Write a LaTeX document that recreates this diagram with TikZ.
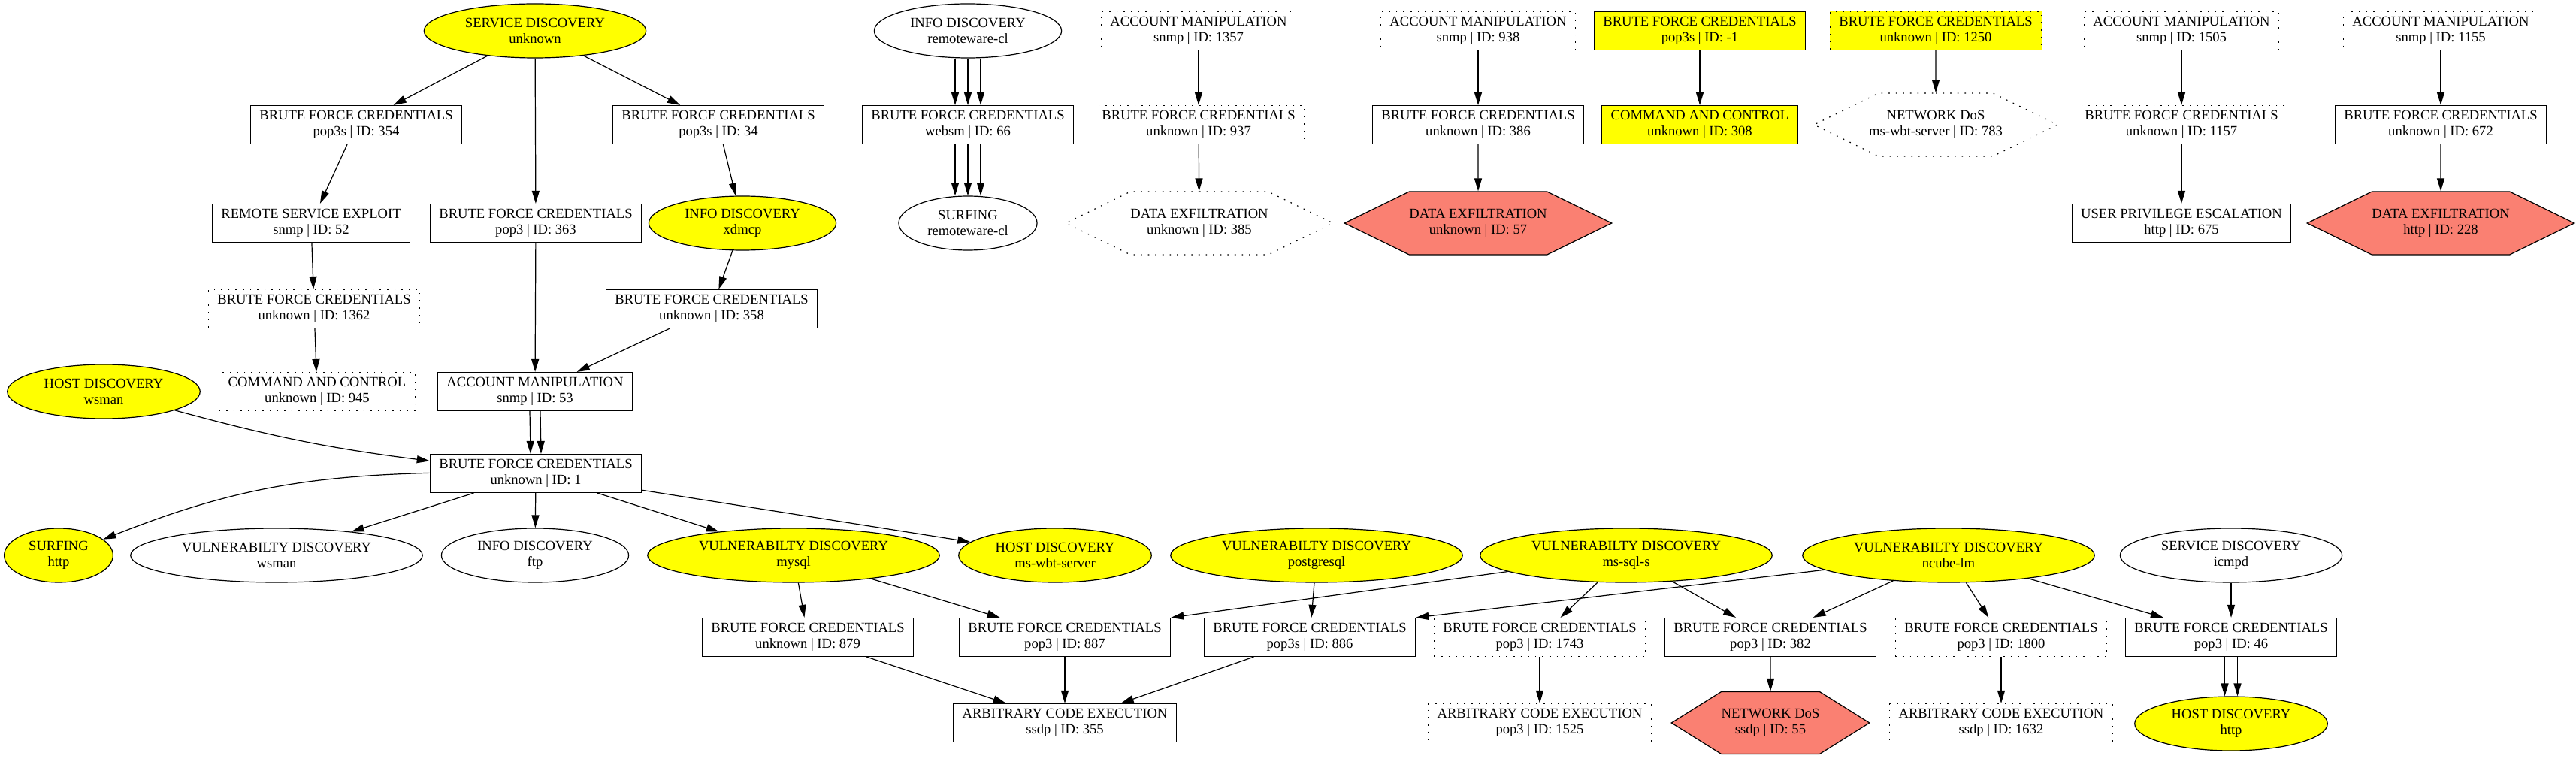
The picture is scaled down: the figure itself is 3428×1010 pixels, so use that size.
\documentclass[tikz,border=0pt]{standalone}
\usepackage{fontspec}
\setmainfont{Liberation Serif}
\usetikzlibrary{shapes.geometric,shapes.symbols,arrows.meta}
\definecolor{salmon}{RGB}{250,128,114}
\definecolor{gvyellow}{RGB}{255,255,0}
\tikzset{
  lbl/.style={font=\fontsize{9.3}{10.35}\selectfont,align=center,line width=0.6pt},
  boxnode/.style={lbl,draw,rectangle,inner xsep=6pt,inner ysep=2pt,minimum height=25.5pt},
  ovalnode/.style={lbl,draw,ellipse,inner xsep=5.7pt,inner ysep=0pt,minimum height=36pt},
  hexnode/.style={lbl,draw,signal,signal to=east and west,signal pointer angle=52,minimum height=42pt,inner sep=0pt},
  dots/.style={dash pattern=on 0.8pt off 4pt},
  link/.style={line width=0.6pt,-{Triangle[length=8.5pt,width=5pt]}}
}
\begin{document}
\begin{tikzpicture}[x=0.5pt,y=-0.5pt]
\fill[white] (0,0) rectangle (3428,1010);
\useasboundingbox (0,0) rectangle (3428,1010);
\node[ovalnode,fill=gvyellow] (svcunk) at (712,41) {SERVICE DISCOVERY\\unknown};
\node[ovalnode] (inforw) at (1288,41) {INFO DISCOVERY\\remoteware-cl};
\node[boxnode,dots] (am1357) at (1595,41) {ACCOUNT MANIPULATION\\snmp | ID: 1357};
\node[boxnode,dots] (am938) at (1967,41) {ACCOUNT MANIPULATION\\snmp | ID: 938};
\node[boxnode,fill=gvyellow] (bfm1) at (2262,41) {BRUTE FORCE CREDENTIALS\\pop3s | ID: -1};
\node[boxnode,dots,fill=gvyellow] (bf1250) at (2576,41) {BRUTE FORCE CREDENTIALS\\unknown | ID: 1250};
\node[boxnode,dots] (am1505) at (2903,41) {ACCOUNT MANIPULATION\\snmp | ID: 1505};
\node[boxnode,dots] (am1155) at (3248,41) {ACCOUNT MANIPULATION\\snmp | ID: 1155};
\node[boxnode] (bf354) at (474,166) {BRUTE FORCE CREDENTIALS\\pop3s | ID: 354};
\node[boxnode] (bf34) at (956,166) {BRUTE FORCE CREDENTIALS\\pop3s | ID: 34};
\node[boxnode] (bf66) at (1288,166) {BRUTE FORCE CREDENTIALS\\websm | ID: 66};
\node[boxnode,dots] (bf937) at (1595,166) {BRUTE FORCE CREDENTIALS\\unknown | ID: 937};
\node[boxnode] (bf386) at (1967,166) {BRUTE FORCE CREDENTIALS\\unknown | ID: 386};
\node[boxnode,fill=gvyellow] (cc308) at (2262,166) {COMMAND AND CONTROL\\unknown | ID: 308};
\node[hexnode,dots,inner xsep=-6.5pt,minimum width=161pt] (dos783) at (2576,166) {NETWORK DoS\\ms-wbt-server | ID: 783};
\node[boxnode,dots] (bf1157) at (2903,166) {BRUTE FORCE CREDENTIALS\\unknown | ID: 1157};
\node[boxnode] (bf672) at (3248,166) {BRUTE FORCE CREDENTIALS\\unknown | ID: 672};
\node[boxnode] (rse52) at (414,297) {REMOTE SERVICE EXPLOIT\\snmp | ID: 52};
\node[boxnode] (bf363) at (713,297) {BRUTE FORCE CREDENTIALS\\pop3 | ID: 363};
\node[ovalnode,fill=gvyellow] (infoxd) at (988,297) {INFO DISCOVERY\\xdmcp};
\node[ovalnode] (surfrw) at (1288,297) {SURFING\\remoteware-cl};
\node[hexnode,dots,minimum width=174pt] (dx385) at (1596,297) {DATA EXFILTRATION\\unknown | ID: 385};
\node[hexnode,fill=salmon,minimum width=174pt] (dx57) at (1967,297) {DATA EXFILTRATION\\unknown | ID: 57};
\node[boxnode] (upe675) at (2903,297) {USER PRIVILEGE ESCALATION\\http | ID: 675};
\node[hexnode,fill=salmon,minimum width=174pt] (dx228) at (3248,297) {DATA EXFILTRATION\\http | ID: 228};
\node[boxnode,dots] (bf1362) at (418,411) {BRUTE FORCE CREDENTIALS\\unknown | ID: 1362};
\node[boxnode] (bf358) at (947,411) {BRUTE FORCE CREDENTIALS\\unknown | ID: 358};
\node[ovalnode,fill=gvyellow] (hdwsman) at (138,521) {HOST DISCOVERY\\wsman};
\node[boxnode,dots] (cc945) at (422,521) {COMMAND AND CONTROL\\unknown | ID: 945};
\node[boxnode] (am53) at (712,521) {ACCOUNT MANIPULATION\\snmp | ID: 53};
\node[boxnode] (bf1) at (713,630) {BRUTE FORCE CREDENTIALS\\unknown | ID: 1};
\node[ovalnode,fill=gvyellow] (surfhttp) at (78,739) {SURFING\\http};
\node[ovalnode] (vdwsman) at (368,739) {VULNERABILTY DISCOVERY\\wsman};
\node[ovalnode] (infoftp) at (712,739) {INFO DISCOVERY\\ftp};
\node[ovalnode,fill=gvyellow] (vdmysql) at (1056,739) {VULNERABILTY DISCOVERY\\mysql};
\node[ovalnode,fill=gvyellow] (hdmswbt) at (1404,739) {HOST DISCOVERY\\ms-wbt-server};
\node[ovalnode,fill=gvyellow] (vdpg) at (1752,739) {VULNERABILTY DISCOVERY\\postgresql};
\node[ovalnode,fill=gvyellow] (vdmssql) at (2164,739) {VULNERABILTY DISCOVERY\\ms-sql-s};
\node[ovalnode,fill=gvyellow] (vdncube) at (2593,739) {VULNERABILTY DISCOVERY\\ncube-lm};
\node[ovalnode] (svcicmpd) at (2969,739) {SERVICE DISCOVERY\\icmpd};
\node[boxnode] (bf879) at (1075,848) {BRUTE FORCE CREDENTIALS\\unknown | ID: 879};
\node[boxnode] (bf887) at (1417,848) {BRUTE FORCE CREDENTIALS\\pop3 | ID: 887};
\node[boxnode] (bf886) at (1743,848) {BRUTE FORCE CREDENTIALS\\pop3s | ID: 886};
\node[boxnode,dots] (bf1743) at (2049,848) {BRUTE FORCE CREDENTIALS\\pop3 | ID: 1743};
\node[boxnode] (bf382) at (2356,848) {BRUTE FORCE CREDENTIALS\\pop3 | ID: 382};
\node[boxnode,dots] (bf1800) at (2663,848) {BRUTE FORCE CREDENTIALS\\pop3 | ID: 1800};
\node[boxnode] (bf46) at (2969,848) {BRUTE FORCE CREDENTIALS\\pop3 | ID: 46};
\node[boxnode] (ace355) at (1417,962) {ARBITRARY CODE EXECUTION\\ssdp | ID: 355};
\node[boxnode,dots] (ace1525) at (2049,962) {ARBITRARY CODE EXECUTION\\pop3 | ID: 1525};
\node[hexnode,fill=salmon,minimum width=126pt,minimum height=41.5pt,signal pointer angle=64] (dos55) at (2356,962) {NETWORK DoS\\ssdp | ID: 55};
\node[boxnode,dots] (ace1632) at (2663,962) {ARBITRARY CODE EXECUTION\\ssdp | ID: 1632};
\node[ovalnode,fill=gvyellow] (hdhttp) at (2969,963) {HOST DISCOVERY\\http};
\draw[link] (svcunk) -- (bf354);
\draw[link] (svcunk) -- (bf363);
\draw[link] (svcunk) -- (bf34);
\draw[link] (bf354) -- (rse52);
\draw[link] (rse52) -- (bf1362);
\draw[link] (bf1362) -- (cc945);
\draw[link] (bf34) -- (infoxd);
\draw[link] (infoxd) -- (bf358);
\draw[link] (bf358) -- (am53);
\draw[link] (bf363) -- (am53);
\draw[link] ([xshift=-3.5pt]am53.south) -- ([xshift=-3.5pt]bf1.north);
\draw[link] ([xshift=3.5pt]am53.south) -- ([xshift=3.5pt]bf1.north);
\draw[link] (hdwsman) to[bend right=4] (bf1);
\draw[link] (bf1) to[bend right=10] (surfhttp);
\draw[link] (bf1) -- (vdwsman);
\draw[link] (bf1) -- (infoftp);
\draw[link] (bf1) -- (vdmysql);
\draw[link] (bf1) -- (hdmswbt);
\draw[link] (vdmysql) -- (bf879);
\draw[link] (vdmysql) -- (bf887);
\draw[link] (vdpg) -- (bf886);
\draw[link] (vdmssql) -- (bf887.north east);
\draw[link] (vdmssql) -- (bf1743);
\draw[link] (vdmssql) -- (bf382);
\draw[link] (vdncube) -- (bf886.north east);
\draw[link] (vdncube) -- (bf382);
\draw[link] (vdncube) -- (bf1800);
\draw[link] (vdncube) -- (bf46);
\draw[link] (svcicmpd) -- (bf46);
\draw[link] (bf879) -- (ace355);
\draw[link] (bf887) -- (ace355);
\draw[link] (bf886) -- (ace355);
\draw[link] (bf1743) -- (ace1525);
\draw[link] (bf382) -- (dos55);
\draw[link] (bf1800) -- (ace1632);
\draw[link] ([xshift=-4.25pt]bf46.south) -- ([xshift=-4.25pt]hdhttp.north);
\draw[link] ([xshift=4.25pt]bf46.south) -- ([xshift=4.25pt]hdhttp.north);
\draw[link] ([xshift=-8.5pt]inforw.south) -- ([xshift=-8.5pt]bf66.north);
\draw[link] (inforw.south) -- (bf66.north);
\draw[link] ([xshift=8.5pt]inforw.south) -- ([xshift=8.5pt]bf66.north);
\draw[link] ([xshift=-8.5pt]bf66.south) -- ([xshift=-8.5pt]surfrw.north);
\draw[link] (bf66.south) -- (surfrw.north);
\draw[link] ([xshift=8.5pt]bf66.south) -- ([xshift=8.5pt]surfrw.north);
\draw[link] (am1357) -- (bf937);
\draw[link] (bf937) -- (dx385);
\draw[link] (am938) -- (bf386);
\draw[link] (bf386) -- (dx57);
\draw[link] (bfm1) -- (cc308);
\draw[link] (bf1250) -- (dos783);
\draw[link] (am1505) -- (bf1157);
\draw[link] (bf1157) -- (upe675);
\draw[link] (am1155) -- (bf672);
\draw[link] (bf672) -- (dx228);
\end{tikzpicture}
\end{document}
